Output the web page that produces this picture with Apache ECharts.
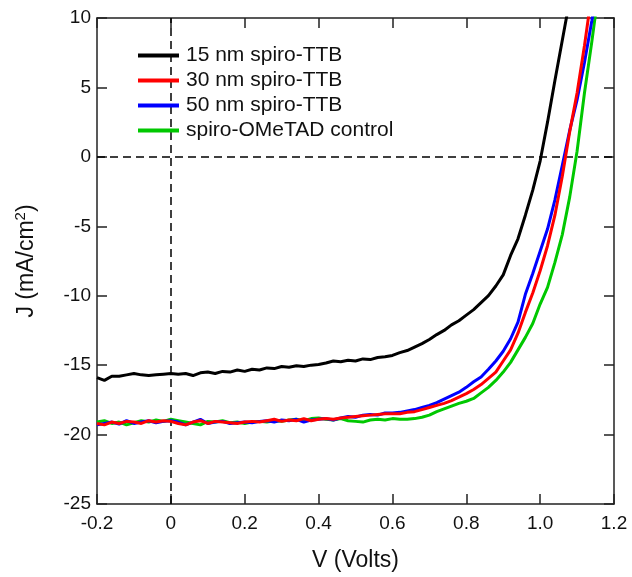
<!DOCTYPE html>
<html>
<head>
<meta charset="utf-8">
<script src="https://cdn.jsdelivr.net/npm/echarts@6/dist/echarts.min.js"></script>
<style>html,body{margin:0;padding:0;background:#fff;}#c{width:632px;height:577px;}</style>
</head>
<body>
<div id="c"></div>
<script>
// Voltage grid (V) shared by the series
var voltages = [-0.20,-0.18,-0.16,-0.14,-0.12,-0.10,-0.08,-0.06,-0.04,-0.02,
  0.00,0.02,0.04,0.06,0.08,0.10,0.12,0.14,0.16,0.18,
  0.20,0.22,0.24,0.26,0.28,0.30,0.32,0.34,0.36,0.38,
  0.40,0.42,0.44,0.46,0.48,0.50,0.52,0.54,0.56,0.58,
  0.60,0.62,0.64,0.66,0.68,0.70,0.72,0.74,0.76,0.78,
  0.80,0.82,0.84,0.86,0.88,0.90,0.92,0.94,0.96,0.98,
  1.00,1.02,1.04,1.06,1.08,1.10,1.12,1.14,1.16];

var seriesNames = ['15 nm spiro-TTB','30 nm spiro-TTB','50 nm spiro-TTB','spiro-OMeTAD control'];

var j15 = [-15.9,-16.1,-15.8,-15.8,-15.7,-15.6,-15.7,-15.75,-15.7,-15.65,
  -15.6,-15.65,-15.6,-15.75,-15.55,-15.5,-15.6,-15.45,-15.5,-15.35,
  -15.45,-15.3,-15.35,-15.2,-15.25,-15.1,-15.15,-15.05,-15.1,-15.0,
  -14.95,-14.85,-14.7,-14.75,-14.65,-14.7,-14.55,-14.6,-14.45,-14.4,
  -14.3,-14.1,-13.95,-13.7,-13.45,-13.15,-12.8,-12.5,-12.1,-11.8,
  -11.4,-11.0,-10.5,-10.0,-9.3,-8.5,-7.1,-5.9,-4.2,-2.4,
  -0.3,2.5,5.5,8.4,11.3];

var j30 = [-19.2,-19.3,-19.1,-19.2,-19.05,-19.1,-19.2,-19.0,-19.1,-19.0,
  -19.05,-19.2,-19.3,-19.1,-19.0,-19.2,-19.05,-19.1,-19.15,-19.2,
  -19.1,-19.05,-19.1,-19.0,-18.9,-19.05,-18.95,-19.0,-18.85,-19.0,
  -18.9,-18.85,-18.9,-18.8,-18.75,-18.7,-18.65,-18.6,-18.55,-18.5,
  -18.5,-18.5,-18.4,-18.35,-18.2,-18.05,-17.9,-17.75,-17.55,-17.3,
  -17.05,-16.75,-16.4,-15.95,-15.5,-14.7,-13.9,-12.7,-11.2,-9.8,
  -8.2,-6.4,-4.2,-1.4,1.8,4.6,8.0,11.8];

var j50 = [-19.3,-19.2,-19.1,-19.25,-19.0,-19.2,-19.1,-19.0,-19.15,-19.05,
  -19.0,-19.1,-19.3,-19.1,-18.9,-19.2,-19.1,-19.05,-19.2,-19.15,
  -19.1,-19.15,-19.05,-19.0,-19.1,-18.95,-19.0,-18.9,-19.1,-18.95,
  -18.9,-18.85,-18.95,-18.8,-18.7,-18.75,-18.6,-18.55,-18.6,-18.45,
  -18.45,-18.4,-18.3,-18.2,-18.05,-17.9,-17.7,-17.45,-17.2,-16.95,
  -16.6,-16.2,-15.85,-15.3,-14.7,-14.0,-13.1,-11.9,-9.9,-8.4,
  -6.8,-5.2,-3.1,-0.6,1.9,4.1,6.8,9.8,13.0];

var jControl = [-19.1,-19.0,-19.2,-19.1,-19.3,-19.15,-19.0,-19.1,-18.95,-19.05,
  -18.9,-19.0,-19.1,-19.2,-19.3,-19.05,-19.1,-19.0,-19.15,-19.1,
  -19.2,-19.1,-19.05,-19.1,-19.0,-19.05,-18.95,-18.9,-19.0,-18.85,
  -18.8,-18.9,-18.95,-18.85,-19.0,-19.05,-19.1,-18.95,-18.9,-18.95,
  -18.85,-18.9,-18.9,-18.85,-18.75,-18.6,-18.35,-18.15,-17.95,-17.75,
  -17.6,-17.4,-17.0,-16.6,-16.1,-15.5,-14.8,-13.9,-13.0,-12.0,
  -10.6,-9.4,-7.6,-5.6,-2.9,0.4,4.6,8.3,12.3];

var seriesValues = [j15, j30, j50, jControl];
var seriesColors = ['#000000','#ff0000','#0000ff','#00c800'];

var xTicks = { min: -0.2, max: 1.2, step: 0.2 };
var yTicks = { min: -25, max: 10, step: 5 };

function pairs(vals) {
  var out = [];
  for (var i = 0; i < vals.length; i++) out.push([voltages[i], vals[i]]);
  return out;
}

var fontFam = '"Liberation Sans", Arial, sans-serif';
var axisLineStyle = { color: '#222', width: 1.5 };

var series = seriesNames.map(function (name, i) {
  var s = {
    name: name,
    type: 'line',
    data: pairs(seriesValues[i]),
    showSymbol: false,
    symbol: 'none',
    smooth: false,
    clip: true,
    lineStyle: { color: seriesColors[i], width: 3 },
    itemStyle: { color: seriesColors[i] },
    z: 10 - i
  };
  if (i === 0) {
    s.markLine = {
      silent: true,
      symbol: 'none',
      label: { show: false },
      lineStyle: { color: '#000', type: [8, 5], width: 1.5 },
      data: [{ xAxis: 0 }, { yAxis: 0 }],
      z: 1
    };
  }
  return s;
});

var chart = echarts.init(document.getElementById('c'), null, { renderer: 'canvas' });
chart.setOption({
  animation: false,
  backgroundColor: '#fff',
  grid: { left: 97, right: 18, top: 18, bottom: 69, containLabel: false },
  legend: {
    orient: 'vertical',
    left: 133, top: 40,
    icon: 'rect',
    itemWidth: 41, itemHeight: 4,
    itemGap: 4,
    data: seriesNames,
    textStyle: { fontFamily: fontFam, fontSize: 21, color: '#111', lineHeight: 21, padding: [0, 0, 0, 2] }
  },
  xAxis: [{
    type: 'value', min: xTicks.min, max: xTicks.max, interval: xTicks.step,
    position: 'bottom',
    name: 'V (Volts)', nameLocation: 'middle', nameGap: 45,
    nameTextStyle: { fontFamily: fontFam, fontSize: 23, color: '#111' },
    axisLine: { show: true, onZero: false, lineStyle: axisLineStyle },
    axisTick: { show: true, inside: true, length: 10, lineStyle: axisLineStyle },
    axisLabel: { fontFamily: fontFam, fontSize: 19, color: '#111', margin: 10,
      formatter: function (v) { return Math.abs(v) < 1e-9 ? '0' : v.toFixed(1); } },
    splitLine: { show: false }
  }, {
    type: 'value', min: xTicks.min, max: xTicks.max, interval: xTicks.step,
    position: 'top',
    axisLine: { show: true, onZero: false, lineStyle: axisLineStyle },
    axisTick: { show: true, inside: true, length: 10, lineStyle: axisLineStyle },
    axisLabel: { show: false },
    splitLine: { show: false }
  }],
  yAxis: [{
    type: 'value', min: yTicks.min, max: yTicks.max, interval: yTicks.step,
    position: 'left',
    name: '{a|J (mA/cm}{s|2}{a|)}', nameLocation: 'middle', nameGap: 45, nameRotate: 90,
    nameTextStyle: {
      rich: {
        a: { fontFamily: fontFam, fontSize: 23, color: '#111', lineHeight: 26 },
        s: { fontFamily: fontFam, fontSize: 15, color: '#111', verticalAlign: 'top', lineHeight: 15, padding: [0, 0, 24, 0] }
      }
    },
    axisLine: { show: true, onZero: false, lineStyle: axisLineStyle },
    axisTick: { show: true, inside: true, length: 10, lineStyle: axisLineStyle },
    axisLabel: { fontFamily: fontFam, fontSize: 19, color: '#111', margin: 6 },
    splitLine: { show: false }
  }, {
    type: 'value', min: yTicks.min, max: yTicks.max, interval: yTicks.step,
    position: 'right',
    axisLine: { show: true, onZero: false, lineStyle: axisLineStyle },
    axisTick: { show: true, inside: true, length: 10, lineStyle: axisLineStyle },
    axisLabel: { show: false },
    splitLine: { show: false }
  }],
  series: series
});
</script>
</body>
</html>
